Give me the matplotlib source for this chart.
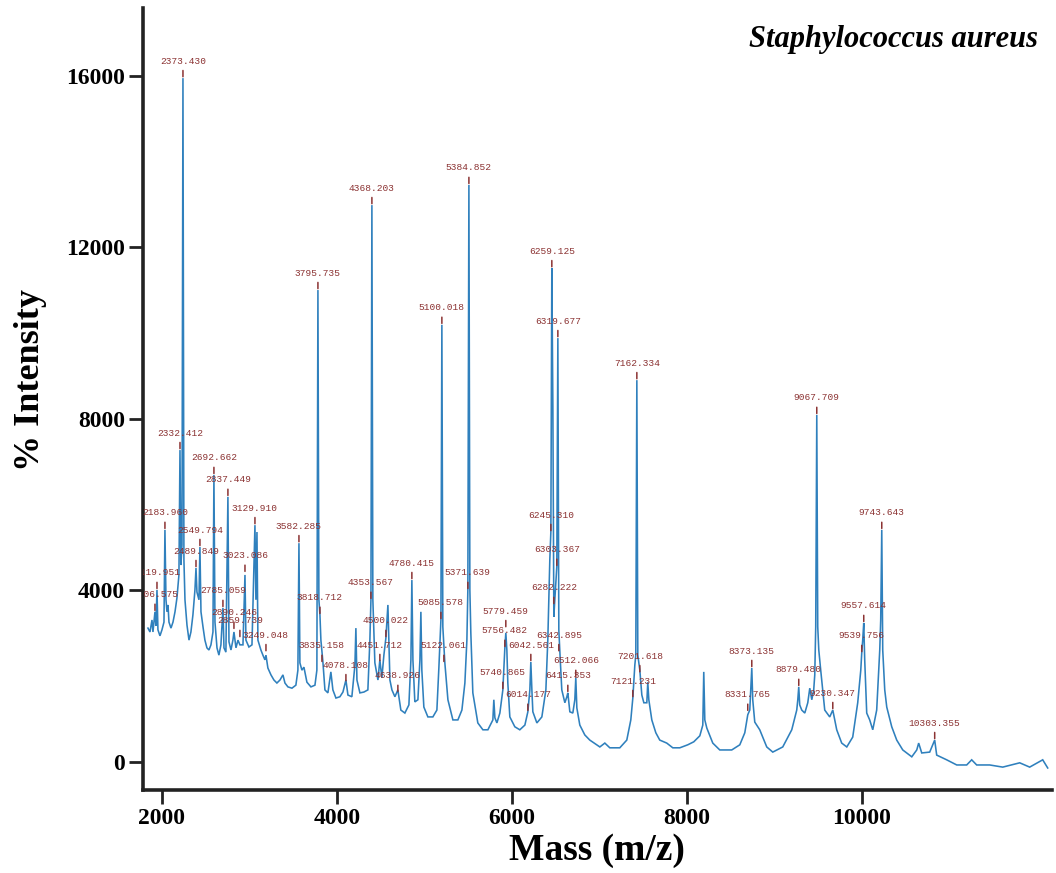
import matplotlib
matplotlib.use("Agg")
import matplotlib.pyplot as plt

# spectrum trace (mass on the chart's own axis, intensity)
mass = [1840, 1863, 1886, 1897, 1920, 1931, 1943, 1954, 1977, 2000, 2023, 2034, 2046, 2057, 2069, 2080,
        2103, 2126, 2149, 2171, 2194, 2206, 2217, 2229, 2240, 2251, 2263, 2286, 2309, 2331, 2354, 2377,
        2389, 2400, 2423, 2434, 2446, 2469, 2491, 2514, 2537, 2560, 2583, 2594, 2606, 2629, 2651, 2674,
        2697, 2709, 2731, 2754, 2766, 2789, 2811, 2823, 2846, 2869, 2891, 2926, 2949, 2960, 2994, 3029,
        3063, 3074, 3086, 3097, 3131, 3154, 3177, 3189, 3211, 3246, 3280, 3314, 3349, 3383, 3406, 3440,
        3486, 3531, 3554, 3566, 3577, 3600, 3623, 3657, 3703, 3749, 3771, 3783, 3794, 3806, 3817, 3840,
        3863, 3897, 3931, 3954, 3989, 4034, 4069, 4103, 4126, 4171, 4206, 4217, 4229, 4263, 4309, 4354,
        4377, 4389, 4400, 4411, 4434, 4469, 4491, 4514, 4537, 4560, 4583, 4606, 4629, 4663, 4697, 4731,
        4777, 4823, 4846, 4857, 4869, 4891, 4926, 4949, 4960, 4971, 4994, 5040, 5097, 5143, 5166, 5189,
        5200, 5211, 5234, 5269, 5326, 5383, 5429, 5463, 5486, 5497, 5509, 5520, 5531, 5554, 5611, 5669,
        5726, 5783, 5794, 5806, 5829, 5863, 5897, 5920, 5931, 5943, 5954, 5977, 6034, 6091, 6149, 6183,
        6206, 6217, 6229, 6240, 6286, 6343, 6389, 6411, 6434, 6446, 6457, 6469, 6480, 6491, 6503, 6514,
        6526, 6537, 6549, 6571, 6606, 6629, 6640, 6663, 6697, 6720, 6731, 6743, 6777, 6834, 6891, 7006,
        7063, 7120, 7234, 7314, 7360, 7383, 7406, 7417, 7429, 7440, 7463, 7486, 7509, 7543, 7554, 7566,
        7600, 7646, 7691, 7771, 7840, 7920, 8011, 8080, 8149, 8183, 8194, 8206, 8229, 8297, 8377, 8514,
        8606, 8663, 8697, 8720, 8731, 8743, 8754, 8777, 8834, 8914, 8983, 9097, 9200, 9257, 9269, 9280,
        9291, 9314, 9349, 9383, 9406, 9429, 9451, 9463, 9474, 9486, 9497, 9509, 9531, 9577, 9634, 9669,
        9714, 9771, 9829, 9897, 9954, 9989, 10000, 10011, 10023, 10034, 10057, 10091, 10126, 10171, 10206, 10217,
        10229, 10240, 10263, 10286, 10343, 10400, 10469, 10572, 10629, 10651, 10686, 10777, 10834, 10857, 10971, 11086,
        11200, 11257, 11314, 11463, 11612, 11806, 11920, 12069, 12126]
intensity = [3120, 3030, 3310, 3030, 3500, 3170, 4010, 3080, 2940, 3080, 3260, 5410, 3780, 3500, 3660, 3260,
             3120, 3260, 3500, 3820, 4360, 7270, 4590, 5060, 15940, 4710, 3780, 3190, 2840, 3030, 3430, 4010,
             4520, 3960, 3780, 5010, 3500, 3150, 2840, 2660, 2610, 2730, 3030, 6690, 3260, 2660, 2490, 2730,
             3590, 2660, 2560, 6180, 2800, 2610, 2840, 3030, 2660, 2840, 2730, 2730, 4360, 2840, 2680, 2730,
             5520, 3780, 5360, 2840, 2610, 2490, 2380, 2490, 2190, 2030, 1910, 1840, 1910, 2030, 1840, 1750,
             1720, 1790, 2140, 5100, 2310, 2140, 2210, 1860, 1750, 1790, 2140, 11000, 3780, 3430, 2840, 2330,
             1680, 1610, 2100, 1680, 1490, 1520, 1630, 1910, 1560, 1520, 2260, 3120, 1910, 1610, 1630, 1680,
             2840, 3780, 12980, 3780, 2310, 1910, 2380, 1960, 2490, 2890, 3660, 1910, 1680, 1520, 1680, 1210,
             1140, 1330, 2380, 4240, 2380, 1400, 1450, 2380, 3500, 2140, 1280, 1050, 1050, 1210, 2210, 3310,
             10190, 3150, 2310, 1450, 980, 980, 1210, 1840, 2840, 4010, 13450, 4010, 3010, 1610, 910, 750,
             750, 980, 1450, 1030, 910, 1140, 1680, 2660, 3010, 2610, 1840, 1050, 820, 750, 860, 1170,
             1680, 2330, 1680, 1170, 910, 1050, 1680, 2840, 4710, 5360, 11510, 8280, 3380, 3780, 4170, 4550,
             9880, 3080, 2560, 1680, 1380, 1520, 1610, 1170, 1140, 1450, 1960, 1260, 860, 630, 510, 350,
             440, 330, 330, 510, 980, 1490, 2260, 2490, 8900, 2490, 2140, 1560, 1380, 1380, 1860, 1450,
             980, 680, 510, 440, 330, 330, 400, 470, 610, 860, 2100, 980, 790, 440, 280, 280,
             400, 680, 1100, 1210, 1680, 2190, 1450, 930, 750, 350, 230, 350, 750, 1210, 1450, 1750,
             1330, 1210, 1140, 1380, 1720, 1450, 1680, 2030, 3150, 8090, 3150, 2610, 2140, 1210, 1050, 1210,
             750, 440, 350, 580, 1380, 2140, 2540, 2840, 3240, 2380, 1140, 980, 750, 1210, 2610, 3310,
             5410, 2610, 1680, 1280, 820, 510, 280, 120, 280, 440, 210, 230, 510, 160, 50, -70,
             -70, 50, -70, -70, -120, -20, -120, 50, -140]

# labelled peaks: printed text, position on the chart's axis, marked intensity
peak_text = ["2106.575", "2119.951", "2183.960", "2332.412", "2373.430", "2489.849", "2549.794",
             "2692.662", "2785.059", "2837.449", "2859.739", "2890.246", "3023.086", "3129.910",
             "3249.048", "3582.285", "3795.735", "3818.712", "3835.158", "4078.108", "4353.567",
             "4368.203", "4451.712", "4500.022", "4638.926", "4780.415", "5085.578", "5100.018",
             "5122.061", "5371.639", "5384.852", "5740.865", "5756.482", "5779.459", "6014.177",
             "6042.561", "6245.310", "6259.125", "6282.222", "6303.367", "6319.677", "6342.895",
             "6415.353", "6512.066", "7121.231", "7162.334", "7201.618", "8331.765", "8373.135",
             "8879.480", "9067.709", "9230.347", "9539.756", "9557.614", "9743.643", "10303.355"]
peak_x = [1920, 1943, 2034, 2206, 2240, 2389, 2434, 2594, 2697, 2754, 2891, 2823, 2949, 3063,
          3189, 3566, 3783, 3806, 3829, 4103, 4389, 4400, 4491, 4560, 4697, 4857, 5189, 5200,
          5223, 5497, 5509, 5897, 5920, 5931, 6183, 6217, 6446, 6457, 6480, 6514, 6526, 6537,
          6640, 6731, 7383, 7429, 7463, 8697, 8743, 9280, 9486, 9669, 10000, 10023, 10229, 10834]
peak_y = [3500, 4010, 5410, 7270, 15940, 4520, 5010, 6690, 3590, 6180, 2890, 3080, 4410, 5520,
          2560, 5100, 11000, 3430, 2310, 1860, 3780, 12980, 2330, 2890, 1610, 4240, 3310, 10190,
          2310, 4010, 13450, 1680, 2660, 3120, 1170, 2330, 5360, 11510, 3660, 4550, 9880, 2560,
          1610, 1960, 1490, 8900, 2070, 1170, 2190, 1750, 8090, 1210, 2540, 3240, 5410, 510]

x_ticks = [2000, 4000, 6000, 8000, 10000]
y_ticks = [0, 4000, 8000, 12000, 16000]

line_color = "#2f80bd"
label_color = "#8b3232"
serif = ["Liberation Serif", "DejaVu Serif"]

fig = plt.figure(figsize=(10.56, 8.73), dpi=100)
ax = fig.add_axes([0.1354, 0.0951, 0.8608, 0.8958])

ax.plot(mass, intensity, color=line_color, lw=1.15, solid_joinstyle="miter")

for txt, px, py in zip(peak_text, peak_x, peak_y):
    ax.annotate(txt, xy=(px, py), xytext=(0, 9), textcoords="offset points",
                ha="center", va="bottom", fontsize=6.8, family="Liberation Mono",
                color=label_color, clip_on=True, annotation_clip=False,
                arrowprops=dict(arrowstyle="-", color=label_color, lw=1.1,
                                shrinkA=1.5, shrinkB=1))

ax.set_xlim(1783, 12175)
ax.set_ylim(-653, 17576)
ax.set_xticks(x_ticks)
ax.set_yticks(y_ticks)
ax.set_xticklabels([str(v) for v in x_ticks], family=serif, fontweight="bold", fontsize=17)
ax.set_yticklabels([str(v) for v in y_ticks], family=serif, fontweight="bold", fontsize=17)
ax.tick_params(direction="out", length=10, width=2, color="#222222", pad=3)

for side in ["top", "right"]:
    ax.spines[side].set_visible(False)
for side in ["left", "bottom"]:
    ax.spines[side].set_linewidth(2.6)
    ax.spines[side].set_color("#222222")

fig.text(0.565, 0.026, "Mass (m/z)", ha="center", va="center", family=serif,
         fontweight="bold", fontsize=27)
fig.text(0.029, 0.565, "% Intensity", ha="center", va="center", rotation=90,
         family=serif, fontweight="bold", fontsize=26)
ax.text(0.985, 0.96, "Staphylococcus aureus", transform=ax.transAxes, ha="right",
        va="center", family=serif, fontweight="bold", fontstyle="italic", fontsize=22)

fig.savefig("out.png", dpi=100)
